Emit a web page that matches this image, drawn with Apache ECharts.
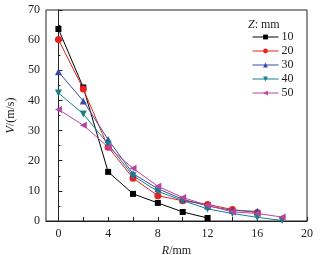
<!DOCTYPE html>
<html>
<head>
<meta charset="utf-8">
<script src="https://cdn.jsdelivr.net/npm/echarts@6/dist/echarts.min.js"></script>
<style>
html, body { margin: 0; padding: 0; background: #fff; }
#main { width: 322px; height: 255px; }
</style>
</head>
<body>
<div id="main"></div>
<script>
// R (mm) positions
var rValues = [0, 2, 4, 6, 8, 10, 12, 14, 16, 18];
var seriesNames = ['10', '20', '30', '40', '50'];
var v10 = [63.7, 44.3, 16.3, 9.0, 6.0, 3.0, 1.0];
var v20 = [60.2, 43.8, 24.5, 14.2, 8.4, 6.7, 5.5, 3.8, 2.8];
var v30 = [49.5, 39.8, 27.0, 15.7, 10.7, 7.2, 5.0, 3.5, 3.2];
var v40 = [42.5, 35.5, 25.5, 15.0, 9.8, 6.8, 4.0, 2.5, 1.2, 0.2];
var v50 = [37.0, 31.8, 24.5, 17.5, 11.5, 7.8, 5.2, 3.0, 2.5, 1.3];
var xTicks = [0, 4, 8, 12, 16, 20];
var xMinorTicks = [0, 2, 4, 6, 8, 10, 12, 14, 16, 18, 20];

var colors = ['#000000', '#e8231f', '#3c4aa6', '#177f86', '#b8469e'];
var symbols = ['rect', 'circle', 'triangle', 'triangle', 'triangle'];
var rotates = [0, 0, 0, 180, 90];
var allValues = [v10, v20, v30, v40, v50];

function pairs(vals) {
    var out = [];
    for (var i = 0; i < vals.length; i++) {
        out.push([rValues[i], vals[i]]);
    }
    return out;
}

var font = '"Liberation Serif", "DejaVu Serif", serif';
var myChart = echarts.init(document.getElementById('main'));

var series = [];
for (var k = 0; k < seriesNames.length; k++) {
    series.push({
        name: seriesNames[k],
        type: 'line',
        data: pairs(allValues[k]),
        symbol: symbols[k],
        symbolRotate: rotates[k],
        symbolSize: k === 0 ? 6 : 7,
        color: colors[k],
        lineStyle: { width: 1, color: colors[k] },
        itemStyle: { color: colors[k] }
    });
}

var option = {
    animation: false,
    textStyle: { fontFamily: font },
    grid: {
        left: 46, right: 15, top: 10, bottom: 34,
        outerBoundsMode: 'none', containLabel: false,
        show: true, borderColor: '#222', borderWidth: 1
    },
    title: {
        text: '{i|Z}: mm',
        left: 243, top: 14,
        textStyle: {
            fontFamily: font, fontSize: 12, fontWeight: 'normal', color: '#222',
            rich: { i: { fontStyle: 'italic', fontFamily: font, fontSize: 12, color: '#222' } }
        }
    },
    legend: {
        orient: 'vertical',
        left: 247, top: 26,
        itemWidth: 26, itemHeight: 6,
        itemGap: 2,
        data: seriesNames,
        lineStyle: { width: 1 },
        textStyle: { fontFamily: font, fontSize: 12, color: '#222', padding: [0, 0, 0, -2] }
    },
    xAxis: {
        type: 'value',
        min: -1, max: 20,
        name: '{i|R}/mm',
        nameLocation: 'middle',
        nameGap: 18,
        nameTextStyle: {
            fontFamily: font, fontSize: 12, color: '#222',
            rich: { i: { fontStyle: 'italic', fontFamily: font, fontSize: 12, color: '#222' } }
        },
        splitLine: { show: false },
        axisLine: { lineStyle: { color: '#222' } },
        axisTick: { inside: true, length: 4, customValues: xMinorTicks, lineStyle: { color: '#222' } },
        axisLabel: { customValues: xTicks, fontFamily: font, fontSize: 12, color: '#222', margin: 7 }
    },
    yAxis: {
        type: 'value',
        min: 0, max: 70, interval: 10,
        name: '{i|V}/(m/s)',
        nameLocation: 'middle',
        nameGap: 22,
        nameTextStyle: {
            fontFamily: font, fontSize: 12, color: '#222',
            rich: { i: { fontStyle: 'italic', fontFamily: font, fontSize: 12, color: '#222' } }
        },
        splitLine: { show: false },
        axisLine: { show: true, lineStyle: { color: '#222' } },
        axisTick: { inside: true, length: 4, lineStyle: { color: '#222' } },
        minorTick: { show: true, splitNumber: 2, length: 2, lineStyle: { color: '#222' } },
        axisLabel: { fontFamily: font, fontSize: 12, color: '#222', margin: 6 }
    },
    series: series
};

myChart.setOption(option);
</script>
</body>
</html>
